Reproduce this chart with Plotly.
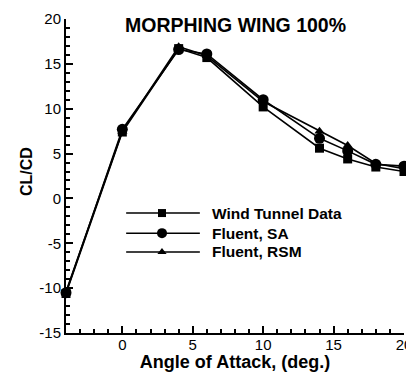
import plotly.graph_objects as go

# ---- data ----
aoa = [-4, 0, 4, 6, 10, 14, 16, 18, 20]
wind_tunnel = [-10.6, 7.4, 16.7, 15.7, 10.2, 5.6, 4.4, 3.5, 3.0]
fluent_sa = [-10.5, 7.7, 16.6, 16.1, 11.0, 6.7, 5.3, 3.8, 3.6]
fluent_rsm = [-10.4, 7.5, 16.9, 15.9, 10.8, 7.5, 5.9, 3.9, 3.3]

series_names = ["Wind Tunnel Data", "Fluent, SA", "Fluent, RSM"]
series_values = [wind_tunnel, fluent_sa, fluent_rsm]
symbols = ["square", "circle", "triangle-up"]
sizes = [9, 11, 9]

x_ticks = [0, 5, 10, 15, 20]
x_tick_text = ["0", "5", "10", "15", "20"]
y_ticks = [-15, -10, -5, 0, 5, 10, 15, 20]
y_tick_text = ["-15", "-10", "-5", "0", "5", "10", "15", "20"]

FONT = "Liberation Sans, Arial, sans-serif"

fig = go.Figure()
for name, vals, sym, sz in zip(series_names, series_values, symbols, sizes):
    fig.add_trace(go.Scatter(
        x=aoa, y=vals, mode="lines+markers", name=name,
        line=dict(color="black", width=1.6),
        marker=dict(symbol=sym, size=sz, color="black"),
        cliponaxis=False, showlegend=False,
    ))

# ---- custom legend (long sample lines like the reference) ----
leg_x0, leg_x1, leg_mx, leg_tx = 0.178, 0.396, 0.284, 0.426
leg_rows = [0.382, 0.318, 0.258]
for name, sym, sz, ry in zip(series_names, symbols, sizes, leg_rows):
    fig.add_trace(go.Scatter(
        x=[leg_x0, leg_x1], y=[ry, ry], mode="lines",
        line=dict(color="black", width=1.5),
        xaxis="x2", yaxis="y2", showlegend=False, hoverinfo="skip",
    ))
    fig.add_trace(go.Scatter(
        x=[leg_mx], y=[ry], mode="markers",
        marker=dict(symbol=sym, size=sz - 1, color="black"),
        xaxis="x2", yaxis="y2", showlegend=False, hoverinfo="skip",
    ))
    fig.add_annotation(
        x=leg_tx, y=ry, xref="paper", yref="paper", xanchor="left", yanchor="middle",
        text=f"<b>{name}</b>", showarrow=False,
        font=dict(family=FONT, size=15.5, color="black"),
    )

# title inside plot area
fig.add_annotation(
    x=0.5, y=0.981, xref="paper", yref="paper", xanchor="center", yanchor="middle",
    text="<b>MORPHING WING 100%</b>", showarrow=False,
    font=dict(family=FONT, size=19.5, color="black"),
)

# y-axis title
fig.add_annotation(
    x=-0.115, y=0.513, xref="paper", yref="paper", xanchor="center", yanchor="middle",
    text="<b>CL/CD</b>", textangle=-90, showarrow=False,
    font=dict(family=FONT, size=16, color="black"),
)

axis_common = dict(
    ticks="inside", ticklen=7, tickwidth=1.5, tickcolor="black",
    showline=True, linewidth=2, linecolor="black",
    showgrid=False, zeroline=False, mirror=False, automargin=False,
    tickfont=dict(family=FONT, size=15, color="black"),
)

# the page body has an 8px margin, so the figure is drawn 8px smaller
fig.update_layout(
    width=406, height=364,
    margin=dict(l=58, r=10, t=11, b=39),
    paper_bgcolor="white", plot_bgcolor="white",
    font=dict(family=FONT, color="black"),
    xaxis=dict(
        range=[-4, 20], tickmode="array", tickvals=x_ticks, ticktext=x_tick_text,
        minor=dict(dtick=1, tick0=0, ticks="inside", ticklen=4, tickwidth=1.5, tickcolor="black"),
        title=dict(text="<b>Angle of Attack, (deg.)</b>", font=dict(family=FONT, size=18), standoff=0),
        ticklabelstandoff=-3,
        **axis_common,
    ),
    yaxis=dict(
        range=[-15, 20], tickmode="array", tickvals=y_ticks, ticktext=y_tick_text,
        minor=dict(dtick=1, tick0=0, ticks="inside", ticklen=4, tickwidth=1.5, tickcolor="black"),
        **axis_common,
    ),
    xaxis2=dict(range=[0, 1], overlaying="x", visible=False, fixedrange=True),
    yaxis2=dict(range=[0, 1], overlaying="y", visible=False, fixedrange=True),
)

fig.write_html("out.html")
